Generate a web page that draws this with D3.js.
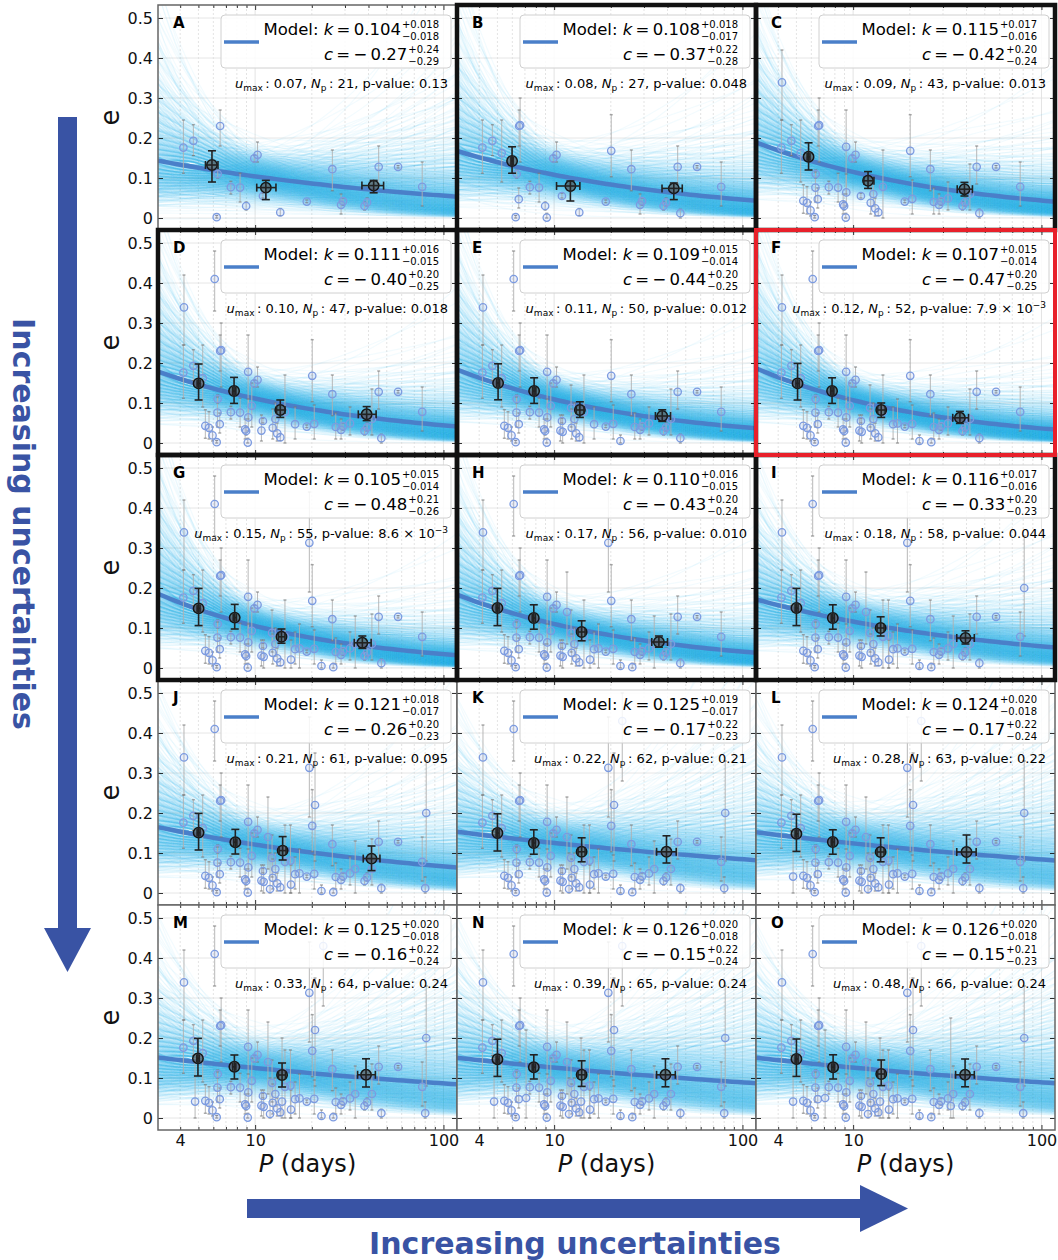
<!DOCTYPE html>
<html>
<head>
<meta charset="utf-8">
<script src="https://cdn.jsdelivr.net/npm/d3@7"></script>
<style>
  body { margin: 0; background: #fff; }
  text { font-family: "DejaVu Sans", sans-serif; }
</style>
</head>
<body>
<script>
/* panel parameters */

var letters = ['A', 'B', 'C', 'D', 'E', 'F', 'G', 'H', 'I', 'J', 'K', 'L', 'M', 'N', 'O'];
var kMed = [0.104, 0.108, 0.115, 0.111, 0.109, 0.107, 0.105, 0.110, 0.116, 0.121, 0.125, 0.124, 0.125, 0.126, 0.126];
var kUp  = [0.018, 0.018, 0.017, 0.016, 0.015, 0.015, 0.015, 0.016, 0.017, 0.018, 0.019, 0.020, 0.020, 0.020, 0.020];
var kDn  = [0.018, 0.017, 0.016, 0.015, 0.014, 0.014, 0.014, 0.015, 0.016, 0.017, 0.017, 0.018, 0.018, 0.018, 0.018];
var cMed = [-0.27, -0.37, -0.42, -0.40, -0.44, -0.47, -0.48, -0.43, -0.33, -0.26, -0.17, -0.17, -0.16, -0.15, -0.15];
var cUp  = [0.24, 0.22, 0.20, 0.20, 0.20, 0.20, 0.21, 0.20, 0.20, 0.20, 0.22, 0.22, 0.22, 0.22, 0.21];
var cDn  = [0.29, 0.28, 0.24, 0.25, 0.25, 0.25, 0.26, 0.24, 0.23, 0.23, 0.23, 0.24, 0.24, 0.24, 0.23];
var uMax = ['0.07', '0.08', '0.09', '0.10', '0.11', '0.12', '0.15', '0.17', '0.18', '0.21', '0.22', '0.28', '0.33', '0.39', '0.48'];
var nPts = [21, 27, 43, 47, 50, 52, 55, 56, 58, 61, 62, 63, 64, 65, 66];
var pVal = ['0.13', '0.048', '0.013', '0.018', '0.012', '7.9e-3', '8.6e-3', '0.010', '0.044', '0.095', '0.21', '0.22', '0.24', '0.24', '0.24'];
var frame = ['none', 'black', 'black', 'black', 'black', 'red', 'black', 'black', 'black', 'none', 'none', 'none', 'none', 'none', 'none'];

/* planets, ordered by uncertainty: panel i shows the first nPts[i] */

var planetP = [4.16, 4.70, 6.52, 6.33, 6.25, 7.43, 8.32, 8.96, 9.90, 10.3, 11.0, 13.6, 18.8, 25.7, 28.6, 29.3, 38.1, 39.3, 45.3, 57.4, 77.1,
  5.27, 6.60, 6.49, 9.14, 20.1, 46.8,
  4.19, 5.44, 5.69, 5.94, 6.31, 9.18, 9.20, 12.4, 12.8, 14.4, 20.6, 31.9, 8.85, 26.8, 13.1, 41.7,
  6.10, 9.60, 10.8, 16.3,
  12.3, 22.5, 11.1,
  26.0, 17.2,
  19.4, 15.5, 34.0,
  11.7,
  81.0, 15.4,
  20.8, 80.0, 12.0,
  23.0, 4.80, 13.9, 7.10, 33.0];
var planetE = [0.176, 0.193, 0.230, 0.110, 0.002, 0.077, 0.076, 0.030, 0.149, 0.158, 0.055, 0.014, 0.041, 0.122, 0.033, 0.042, 0.030, 0.039, 0.128, 0.128, 0.078,
  0.162, 0.232, 0.047, 0.001, 0.168, 0.012,
  0.339, 0.043, 0.038, 0.019, 0.076, 0.178, 0.064, 0.038, 0.060, 0.078, 0.048, 0.049, 0.034, 0.040, 0.024, 0.060,
  0.410, 0.093, 0.031, 0.047,
  0.088, 0.005, 0.028,
  0.002, 0.049,
  0.313, 0.021, 0.060,
  0.140,
  0.200, 0.081,
  0.220, 0.012, 0.010,
  0.430, 0.041, 0.041, 0.050, 0.030];
var planetLo = [0.112, 0.156, 0.180, 0.100, 0.000, 0.060, 0.040, 0.020, 0.140, 0.140, 0.050, 0.006, 0.038, 0.068, 0.010, 0.032, 0.020, 0.030, 0.085, 0.125, 0.030,
  0.090, 0.140, 0.025, 0.000, 0.103, 0.000,
  0.245, 0.012, 0.010, 0.005, 0.040, 0.060, 0.030, 0.010, 0.030, 0.000, 0.010, 0.020, 0.010, 0.010, 0.005, 0.020,
  0.330, 0.040, 0.005, 0.010,
  0.040, 0.000, 0.000,
  0.000, 0.000,
  0.190, 0.000, 0.000,
  0.060,
  0.080, 0.000,
  0.080, 0.000, 0.000,
  0.280, 0.000, 0.000, 0.000, 0.000];
var planetHi = [0.245, 0.233, 0.270, 0.120, 0.006, 0.092, 0.112, 0.040, 0.157, 0.190, 0.062, 0.024, 0.045, 0.170, 0.060, 0.050, 0.040, 0.050, 0.180, 0.131, 0.140,
  0.245, 0.300, 0.075, 0.012, 0.258, 0.022,
  0.420, 0.083, 0.078, 0.040, 0.115, 0.270, 0.110, 0.085, 0.100, 0.170, 0.095, 0.090, 0.060, 0.075, 0.050, 0.135,
  0.480, 0.150, 0.070, 0.090,
  0.145, 0.020, 0.070,
  0.012, 0.110,
  0.440, 0.070, 0.130,
  0.240,
  0.330, 0.170,
  0.350, 0.040, 0.100,
  0.500, 0.140, 0.200, 0.220, 0.250];

/* binned means per panel */

var binP = [[5.9, 11.4, 42.6], [5.98, 12.2, 43.2], [5.8, 12.0, 39.0],
  [5.01, 7.73, 13.6, 39.1], [5.04, 7.83, 13.7, 37.5], [5.07, 7.73, 14.1, 36.9],
  [5.01, 7.79, 13.8, 37.1], [5.0, 7.8, 14.0, 36.0], [5.0, 7.8, 14.0, 39.5],
  [5.01, 7.85, 14.0, 41.5], [5.0, 7.8, 14.0, 39.5], [5.0, 7.8, 14.0, 40.0],
  [4.97, 7.76, 13.9, 38.8], [5.0, 7.8, 14.0, 39.0], [5.0, 7.83, 14.1, 39.3]];
var binPlo = [[5.45, 10.2, 36.9], [5.9, 10.3, 37.4], [5.7, 11.4, 35.7],
  [4.92, 7.6, 13.0, 35.3], [4.95, 7.7, 13.1, 34.5], [4.97, 7.6, 13.5, 33.8],
  [4.92, 7.65, 13.3, 33.6], [4.92, 7.65, 13.4, 33.0], [4.92, 7.65, 13.4, 35.5],
  [4.92, 7.7, 13.4, 37.5], [4.92, 7.65, 13.4, 35.0], [4.92, 7.65, 13.4, 35.5],
  [4.9, 7.6, 13.3, 35.0], [4.92, 7.65, 13.4, 35.0], [4.92, 7.7, 13.5, 35.0]];
var binPhi = [[6.35, 12.9, 48.1], [6.06, 13.7, 47.9], [5.9, 12.9, 43.0],
  [5.1, 7.9, 14.4, 43.9], [5.13, 8.0, 14.4, 41.5], [5.17, 7.9, 14.8, 41.0],
  [5.1, 7.95, 14.4, 41.3], [5.1, 7.95, 14.6, 40.0], [5.1, 7.95, 14.6, 44.0],
  [5.1, 8.0, 14.6, 46.0], [5.1, 7.95, 14.6, 44.5], [5.1, 7.95, 14.6, 45.0],
  [5.05, 7.9, 14.5, 43.5], [5.1, 7.95, 14.6, 44.0], [5.1, 7.98, 14.7, 44.0]];
var binE = [[0.1325, 0.076, 0.081], [0.1425, 0.080, 0.074], [0.153, 0.093, 0.072],
  [0.149, 0.130, 0.0825, 0.0717], [0.150, 0.130, 0.0825, 0.0675], [0.149, 0.130, 0.0825, 0.063],
  [0.149, 0.126, 0.078, 0.063], [0.150, 0.125, 0.090, 0.065], [0.150, 0.125, 0.100, 0.075],
  [0.151, 0.127, 0.106, 0.086], [0.150, 0.125, 0.103, 0.103], [0.148, 0.1275, 0.1025, 0.1025],
  [0.149, 0.128, 0.1075, 0.108], [0.147, 0.127, 0.108, 0.108], [0.1475, 0.127, 0.110, 0.108]];
var binElo = [[0.090, 0.046, 0.063], [0.112, 0.0425, 0.046], [0.120, 0.074, 0.055],
  [0.1075, 0.099, 0.064, 0.056], [0.108, 0.099, 0.064, 0.054], [0.1075, 0.099, 0.064, 0.049],
  [0.106, 0.0975, 0.062, 0.049], [0.106, 0.097, 0.068, 0.052], [0.106, 0.097, 0.080, 0.060],
  [0.1075, 0.0975, 0.0825, 0.056], [0.105, 0.097, 0.078, 0.075], [0.104, 0.097, 0.078, 0.075],
  [0.105, 0.0975, 0.0775, 0.0775], [0.104, 0.0975, 0.079, 0.078], [0.104, 0.0975, 0.081, 0.078]];
var binEhi = [[0.168, 0.094, 0.094], [0.178, 0.0925, 0.0875], [0.188, 0.116, 0.089],
  [0.1975, 0.164, 0.1075, 0.091], [0.198, 0.163, 0.103, 0.083], [0.199, 0.163, 0.100, 0.079],
  [0.199, 0.159, 0.0975, 0.080], [0.199, 0.158, 0.118, 0.080], [0.199, 0.158, 0.128, 0.093],
  [0.199, 0.159, 0.141, 0.1175], [0.198, 0.158, 0.138, 0.143], [0.197, 0.158, 0.138, 0.145],
  [0.199, 0.1575, 0.1375, 0.148], [0.197, 0.158, 0.143, 0.148], [0.1975, 0.158, 0.145, 0.1475]];


/* layout */

var width = 1058, height = 1260;
var left0 = 158, top0 = 5, pw = 299, ph = 225;
var arrowBlue = '#3953a4';
var lineBlue = '#4a7fc9';
var fanBlue = '#38bbf2';
// visual spread of the curve fan relative to the quoted 1-sigma intervals
var kSpread = 1.8, cSpread = 1.35;

var svg = d3.select('body').append('svg')
  .attr('width', width).attr('height', height);

var x = d3.scaleLog().domain([3.05, 118]).range([0, pw]);
var y = d3.scaleLinear().domain([-0.03, 0.5325]).range([ph, 0]);

// model e = k (P / 10 d)^c
function model(k, c, p) { return k * Math.pow(p / 10, c); }

// normal quantiles, used to spread the fan of model curves
function erf(v) {
  var s = v < 0 ? -1 : 1; v = Math.abs(v);
  var t = 1 / (1 + 0.3275911 * v);
  var r = 1 - (((((1.061405429 * t - 1.453152027) * t) + 1.421413741) * t - 0.284496736) * t + 0.254829592) * t * Math.exp(-v * v);
  return s * r;
}
function probit(p) {
  var lo = -8, hi = 8;
  for (var i = 0; i < 60; i++) {
    var m = (lo + hi) / 2;
    if (0.5 * (1 + erf(m / Math.SQRT2)) < p) lo = m; else hi = m;
  }
  return (lo + hi) / 2;
}
// latin pairing of k and c quantiles so no two curves share a k
var nCurves = 801, stride = 494;
var zk = d3.range(nCurves).map(function (a) { return probit((a + 0.5) / nCurves); });
var zc = d3.range(nCurves).map(function (a) { return probit(((a * stride) % nCurves + 0.5) / nCurves); });
var pGrid = d3.range(0, 51).map(function (i) { return x.invert(i * pw / 50); });

var xt = x.ticks();
var xMajor = xt.filter(function (d) { return d === 10 || d === 100; });
var xMinor = xt.filter(function (d) { return xMajor.indexOf(d) < 0; });
var yt = y.ticks(6);
var yFmt = function (d) { return d === 0 ? '0' : d3.format('.1f')(d); };
var xFmt = function (d) { return (d === 4 || d === 10 || d === 100) ? d : ''; };
var noFmt = function () { return ''; };

var defs = svg.append('defs');
var panels = svg.append('g');
var frames = svg.append('g');

letters.forEach(function (L, i) {
  var col = i % 3, row = Math.floor(i / 3);
  var g = panels.append('g')
    .attr('transform', 'translate(' + (left0 + col * pw) + ',' + (top0 + row * ph) + ')');

  defs.append('clipPath').attr('id', 'clip' + i)
    .append('rect').attr('width', pw).attr('height', ph);

  g.append('rect').attr('width', pw).attr('height', ph).attr('fill', 'white');

  var inner = g.append('g').attr('clip-path', 'url(#clip' + i + ')');

  // grid
  inner.selectAll('.gx').data(xt).enter().append('line')
    .attr('x1', x).attr('x2', x).attr('y1', 0).attr('y2', ph)
    .attr('stroke', '#dcdcdc').attr('stroke-width', 0.8)
    .attr('stroke-dasharray', function (d) { return xMajor.indexOf(d) < 0 ? '2,2' : null; });
  inner.selectAll('.gy').data(yt).enter().append('line')
    .attr('x1', 0).attr('x2', pw).attr('y1', y).attr('y2', y)
    .attr('stroke', '#e0e0e0').attr('stroke-width', 0.8);

  // fan of model curves
  var combos = zk.map(function (a, n) {
    var b = zc[n];
    return [kMed[i] + kSpread * a * (a > 0 ? kUp[i] : kDn[i]),
      cMed[i] + cSpread * b * (b > 0 ? cUp[i] : cDn[i])];
  });
  inner.append('g').selectAll('path').data(combos).enter().append('path')
    .attr('d', function (kc) {
      return d3.line().x(function (p) { return x(p); }).y(function (p) { return y(model(kc[0], kc[1], p)); })(pGrid);
    })
    .attr('fill', 'none').attr('stroke', fanBlue).attr('stroke-width', 1.2).attr('stroke-opacity', 0.06);

  // median model
  inner.append('path')
    .attr('d', d3.line().x(function (p) { return x(p); }).y(function (p) { return y(model(kMed[i], cMed[i], p)); })(pGrid))
    .attr('fill', 'none').attr('stroke', lineBlue).attr('stroke-width', 4.5);

  // planets
  var idx = d3.range(nPts[i]);
  var pts = inner.append('g');
  pts.selectAll('.eb').data(idx).enter().append('line')
    .attr('x1', function (j) { return x(planetP[j]); }).attr('x2', function (j) { return x(planetP[j]); })
    .attr('y1', function (j) { return y(planetLo[j]); }).attr('y2', function (j) { return y(planetHi[j]); })
    .attr('stroke', '#b0b0b0').attr('stroke-width', 0.9);
  [planetLo, planetHi].forEach(function (arr) {
    pts.selectAll(null).data(idx).enter().append('line')
      .attr('x1', function (j) { return x(planetP[j]) - 1.5; }).attr('x2', function (j) { return x(planetP[j]) + 1.5; })
      .attr('y1', function (j) { return y(arr[j]); }).attr('y2', function (j) { return y(arr[j]); })
      .attr('stroke', '#777').attr('stroke-width', 0.9);
  });
  pts.selectAll('circle').data(idx).enter().append('circle')
    .attr('cx', function (j) { return x(planetP[j]); })
    .attr('cy', function (j) { return y(planetE[j]); })
    .attr('r', 3.7)
    .attr('fill', 'rgba(125,155,225,0.15)')
    .attr('stroke', '#7c9be0').attr('stroke-width', 1.3);

  // binned means
  var bins = inner.append('g');
  var bi = d3.range(binP[i].length);
  bins.selectAll('circle').data(bi).enter().append('circle')
    .attr('cx', function (b) { return x(binP[i][b]); })
    .attr('cy', function (b) { return y(binE[i][b]); })
    .attr('r', 5.2).attr('fill', 'rgba(90,90,90,0.7)').attr('stroke', '#151515').attr('stroke-width', 1.5);
  bi.forEach(function (b) {
    var cx = x(binP[i][b]), cy = y(binE[i][b]);
    var y0 = y(binElo[i][b]), y1 = y(binEhi[i][b]);
    var x0 = x(binPlo[i][b]), x1 = x(binPhi[i][b]);
    var segs = [[cx, y0, cx, y1], [cx - 4, y0, cx + 4, y0], [cx - 4, y1, cx + 4, y1],
      [x0, cy, x1, cy], [x0, cy - 4, x0, cy + 4], [x1, cy - 4, x1, cy + 4]];
    bins.selectAll(null).data(segs).enter().append('line')
      .attr('x1', function (s) { return s[0]; }).attr('y1', function (s) { return s[1]; })
      .attr('x2', function (s) { return s[2]; }).attr('y2', function (s) { return s[3]; })
      .attr('stroke', '#222').attr('stroke-width', 1.6);
  });

  // legend box
  var lg = g.append('g');
  lg.append('rect').attr('x', 63).attr('y', 10).attr('width', 230).attr('height', 53).attr('rx', 4)
    .attr('fill', 'white').attr('fill-opacity', 0.85).attr('stroke', '#d0d0d0');
  lg.append('line').attr('x1', 66).attr('x2', 101).attr('y1', 37).attr('y2', 37)
    .attr('stroke', lineBlue).attr('stroke-width', 3.5);
  mathRow(lg, 281, 30, [['Model: ', null], ['k', 'italic'], ['\u2009=\u20090.' + kMed[i].toFixed(3).split('.')[1], null]],
    '+' + kUp[i].toFixed(3), '\u2212' + kDn[i].toFixed(3));
  mathRow(lg, 281, 55, [['c', 'italic'], ['\u2009=\u2009\u2212\u2009' + Math.abs(cMed[i]).toFixed(2), null]],
    '+' + cUp[i].toFixed(2), '\u2212' + cDn[i].toFixed(2));

  var t3 = lg.append('text').attr('x', 290).attr('y', 83).attr('text-anchor', 'end').style('font-size', '13px');
  t3.append('tspan').style('font-style', 'italic').text('u');
  t3.append('tspan').attr('dy', 3).style('font-size', '9px').text('max');
  t3.append('tspan').attr('dy', -3).text('\u2009: ' + uMax[i] + ',  ');
  t3.append('tspan').style('font-style', 'italic').text('N');
  t3.append('tspan').attr('dy', 3).style('font-size', '9px').text('p');
  var pv = pVal[i];
  if (pv.indexOf('e') > 0) {
    var parts = pv.split('e');
    t3.append('tspan').attr('dy', -3).text('\u2009: ' + nPts[i] + ', p-value: ' + parts[0] + ' \u00d7 10');
    t3.append('tspan').attr('dy', -5).style('font-size', '9px').text('\u2212' + Math.abs(+parts[1]));
  } else {
    t3.append('tspan').attr('dy', -3).text('\u2009: ' + nPts[i] + ', p-value: ' + pv);
  }

  g.append('text').attr('x', 15).attr('y', 23).style('font-size', '15px').style('font-weight', 'bold').text(L);

  // ticks (inward) on all four sides
  function clean(s) { s.select('.domain').remove(); s.attr('font-family', null).attr('font-size', null); s.selectAll('line').attr('stroke', '#000').attr('stroke-width', 0.8); }
  g.append('g').call(d3.axisLeft(y).tickValues(yt).tickSize(-5).tickPadding(5).tickFormat(col === 0 ? yFmt : noFmt)).call(clean)
    .selectAll('text').style('font-size', '16px').attr('fill', '#111');
  g.append('g').attr('transform', 'translate(' + pw + ',0)').call(d3.axisRight(y).tickValues(yt).tickSize(-5).tickFormat(noFmt)).call(clean);
  g.append('g').call(d3.axisTop(x).tickValues(xMajor).tickSize(-5).tickFormat(noFmt)).call(clean);
  g.append('g').call(d3.axisTop(x).tickValues(xMinor).tickSize(-3).tickFormat(noFmt)).call(clean);
  var bx = g.append('g').attr('transform', 'translate(0,' + ph + ')');
  bx.append('g').call(d3.axisBottom(x).tickValues(xMajor).tickSize(-5).tickPadding(5).tickFormat(row === 4 ? xFmt : noFmt)).call(clean);
  bx.append('g').call(d3.axisBottom(x).tickValues(xMinor).tickSize(-3).tickPadding(5).tickFormat(row === 4 ? xFmt : noFmt)).call(clean);
  bx.selectAll('text').style('font-size', '16px').attr('fill', '#111');

  // frame
  if (frame[i] === 'none') {
    g.append('rect').attr('width', pw).attr('height', ph).attr('fill', 'none').attr('stroke', '#666').attr('stroke-width', 1.5);
  } else {
    frames.append('rect')
      .attr('class', frame[i])
      .attr('x', left0 + col * pw).attr('y', top0 + row * ph).attr('width', pw).attr('height', ph)
      .attr('fill', 'none')
      .attr('stroke', frame[i] === 'red' ? '#e8202a' : '#111')
      .attr('stroke-width', frame[i] === 'red' ? 4 : 4.5);
  }

  if (col === 0) {
    svg.append('text')
      .attr('transform', 'translate(119,' + (top0 + row * ph + ph / 2) + ') rotate(-90)')
      .attr('text-anchor', 'middle').style('font-size', '26px').attr('fill', '#111').text('e');
  }
  if (row === 4) {
    var xl = svg.append('text').attr('x', left0 + col * pw + pw / 2).attr('y', 1172)
      .attr('text-anchor', 'middle').style('font-size', '24px').attr('fill', '#111');
    xl.append('tspan').style('font-style', 'italic').text('P');
    xl.append('tspan').text(' (days)');
  }
});

// red frame drawn last so it sits on top of neighbours
frames.selectAll('rect.red').raise();

function mathRow(parent, xr, yb, parts, sup, sub) {
  var s1 = parent.append('text').attr('x', xr).attr('y', yb - 7).attr('text-anchor', 'end').style('font-size', '10px').text(sup);
  var s2 = parent.append('text').attr('x', xr).attr('y', yb + 4.5).attr('text-anchor', 'end').style('font-size', '10px').text(sub);
  var w = Math.max(s1.node().getComputedTextLength(), s2.node().getComputedTextLength());
  var t = parent.append('text').attr('x', xr - w - 1).attr('y', yb).attr('text-anchor', 'end').style('font-size', '16.5px');
  parts.forEach(function (p) { t.append('tspan').style('font-style', p[1]).text(p[0]); });
}


/* arrows */

svg.append('rect').attr('x', 58).attr('y', 117).attr('width', 19).attr('height', 813).attr('fill', arrowBlue);
svg.append('path').attr('d', 'M44,928 L91,928 L67.5,972 Z').attr('fill', arrowBlue);
svg.append('text').attr('transform', 'translate(13,524) rotate(90)')
  .attr('text-anchor', 'middle').style('font-size', '30px').style('font-weight', 'bold')
  .attr('fill', arrowBlue).text('Increasing uncertainties');

svg.append('rect').attr('x', 247).attr('y', 1199).attr('width', 615).attr('height', 19).attr('fill', arrowBlue);
svg.append('path').attr('d', 'M860,1185 L860,1232 L908,1208.5 Z').attr('fill', arrowBlue);
svg.append('text').attr('x', 575).attr('y', 1254)
  .attr('text-anchor', 'middle').style('font-size', '30px').style('font-weight', 'bold')
  .attr('fill', arrowBlue).text('Increasing uncertainties');
</script>
</body>
</html>
